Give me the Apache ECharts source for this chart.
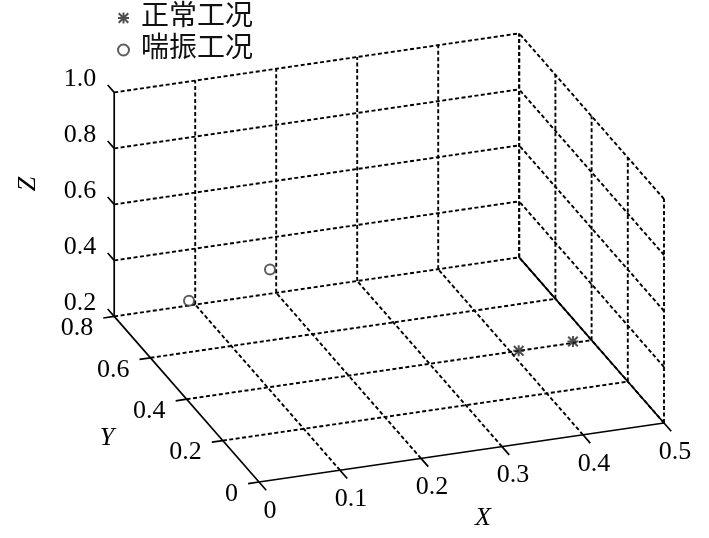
<!DOCTYPE html>
<html>
<head>
<meta charset="utf-8">
<script src="https://cdn.jsdelivr.net/npm/echarts@6/dist/echarts.min.js"></script>
<style>
  html, body { margin: 0; padding: 0; background: #fff; }
  #chart { width: 709px; height: 538px; }
</style>
</head>
<body>
<div id="chart"></div>
<script>
// tick values and labels
var xTicks = [0, 0.1, 0.2, 0.3, 0.4, 0.5]
var xLabels = ['0', '0.1', '0.2', '0.3', '0.4', '0.5']
var yTicks = [0, 0.2, 0.4, 0.6, 0.8]
var yLabels = ['0', '0.2', '0.4', '0.6', '0.8']
var zTicks = [0.2, 0.4, 0.6, 0.8, 1.0]
var zLabels = ['0.2', '0.4', '0.6', '0.8', '1.0']

// 正常工况
var normalX = [0.41, 0.477]
var normalY = [0.40, 0.40]
var normalZ = [0.20, 0.205]
// 喘振工况
var surgeX = [0.07, 0.17]
var surgeY = [0.70, 0.70]
var surgeZ = [0.30, 0.37]

var xMin = 0, xMax = 0.5, yMin = 0, yMax = 0.8, zMin = 0.2, zMax = 1.0

// orthographic view, projected into a plane that the hidden axes map to the canvas
var view = { ox: 259, oy: 482, ex: [810, -118], ey: [-181, -207], ez: [0, -280] }
function project (x, y, z) {
  return [
    view.ox + x * view.ex[0] + y * view.ey[0] + (z - zMin) * view.ez[0],
    view.oy + x * view.ex[1] + y * view.ey[1] + (z - zMin) * view.ez[1]
  ]
}

var FONT = '"Liberation Serif", "Times New Roman", serif'

// grid segments: [x1, y1, z1, x2, y2, z2, solid]
var segments = []
xTicks.forEach(function (x) {
  if (x !== xMin) segments.push([x, yMin, zMin, x, yMax, zMin, 0])
  if (x !== xMin) segments.push([x, yMax, zMin, x, yMax, zMax, 0])
})
yTicks.forEach(function (y) {
  if (y !== yMin) segments.push([xMin, y, zMin, xMax, y, zMin, 0])
  segments.push([xMax, y, zMin, xMax, y, zMax, 0])
})
zTicks.forEach(function (z) {
  if (z !== zMin) segments.push([xMin, yMax, z, xMax, yMax, z, 0])
  if (z !== zMin) segments.push([xMax, yMin, z, xMax, yMax, z, 0])
})
segments.push([xMin, yMin, zMin, xMax, yMin, zMin, 1])
segments.push([xMin, yMin, zMin, xMin, yMax, zMin, 1])
segments.push([xMin, yMax, zMin, xMin, yMax, zMax, 1])
segments.push([xMax, yMin, zMin, xMax, yMax, zMin, 1])

// ticks: [x, y, z, tx, ty, tz]
var xTickData = xTicks.map(function (v) { return [v, yMin, zMin, v, yMin - 0.04, zMin] })
var yTickData = yTicks.map(function (v) { return [xMin, v, zMin, xMin - 0.0135, v, zMin] })
var zTickData = zTicks.map(function (v) { return [xMin, yMax, v, xMin, yMax + 0.036, v] })

function segmentItem (params, api) {
  var a = api.coord(project(api.value(0), api.value(1), api.value(2)))
  var b = api.coord(project(api.value(3), api.value(4), api.value(5)))
  var solid = api.value(6) === 1
  return {
    type: 'line',
    shape: { x1: a[0], y1: a[1], x2: b[0], y2: b[1] },
    style: {
      stroke: '#000',
      lineWidth: solid ? 1.7 : 1.9,
      lineDash: solid ? null : [4, 2.5]
    }
  }
}

function tickRenderer (labels, dx, dy, align) {
  return function (params, api) {
    var a = api.coord(project(api.value(0), api.value(1), api.value(2)))
    var b = api.coord(project(api.value(3), api.value(4), api.value(5)))
    return {
      type: 'group',
      children: [{
        type: 'line',
        shape: { x1: a[0], y1: a[1], x2: b[0], y2: b[1] },
        style: { stroke: '#000', lineWidth: 1.7 }
      }, {
        type: 'text',
        x: a[0] + dx,
        y: a[1] + dy,
        style: {
          text: labels[params.dataIndex],
          fill: '#000',
          font: '26px ' + FONT,
          align: align,
          verticalAlign: 'middle'
        }
      }]
    }
  }
}

function points (xs, ys, zs) {
  return xs.map(function (x, i) { return project(x, ys[i], zs[i]) })
}

var starPath = 'path://M0 4.1L10 4.1L10 5.9L0 5.9Z' +
  'M4.1 0L5.9 0L5.9 10L4.1 10Z' +
  'M1.3 0L10 8.7L8.7 10L0 1.3Z' +
  'M8.7 0L10 1.3L1.3 10L0 8.7Z'

var chart = echarts.init(document.getElementById('chart'))
chart.setOption({
  animation: false,
  grid: { left: 0, right: 0, top: 0, bottom: 0 },
  xAxis: { type: 'value', min: 0, max: 709, show: false },
  yAxis: { type: 'value', min: 0, max: 538, inverse: true, show: false },
  legend: {
    left: 112,
    top: -1,
    orient: 'vertical',
    itemWidth: 11,
    itemHeight: 11,
    itemGap: 4,
    textStyle: {
      fontFamily: '"Liberation Serif", "Noto Sans CJK SC", serif',
      fontSize: 28,
      lineHeight: 28,
      color: '#111',
      padding: [0, 0, 0, 7]
    },
    data: ['正常工况', '喘振工况']
  },
  graphic: [
    { type: 'text', x: 483, y: 518, style: { text: 'X', font: 'italic 26px ' + FONT, fill: '#000', align: 'center', verticalAlign: 'middle' } },
    { type: 'text', x: 107, y: 438, style: { text: 'Y', font: 'italic 26px ' + FONT, fill: '#000', align: 'center', verticalAlign: 'middle' } },
    { type: 'text', x: 28, y: 184, rotation: Math.PI / 2, style: { text: 'Z', font: 'italic 26px ' + FONT, fill: '#000', align: 'center', verticalAlign: 'middle' } }
  ],
  series: [
    {
      type: 'custom',
      name: 'frame',
      clip: false,
      silent: true,
      renderItem: segmentItem,
      data: segments,
      z: 1
    },
    { type: 'custom', clip: false, silent: true, renderItem: tickRenderer(xLabels, 11, 29, 'center'), data: xTickData, z: 2 },
    { type: 'custom', clip: false, silent: true, renderItem: tickRenderer(yLabels, -21, 12, 'right'), data: yTickData, z: 2 },
    { type: 'custom', clip: false, silent: true, renderItem: tickRenderer(zLabels, -18, -13, 'right'), data: zTickData, z: 2 },
    {
      type: 'scatter',
      name: '正常工况',
      symbol: starPath,
      symbolSize: 11,
      itemStyle: { color: '#222' },
      data: points(normalX, normalY, normalZ),
      z: 5
    },
    {
      type: 'scatter',
      name: '喘振工况',
      symbol: 'emptyCircle',
      symbolSize: 10,
      itemStyle: { color: '#333', borderColor: '#333', borderWidth: 2 },
      data: points(surgeX, surgeY, surgeZ),
      z: 5
    }
  ]
})
</script>
</body>
</html>
